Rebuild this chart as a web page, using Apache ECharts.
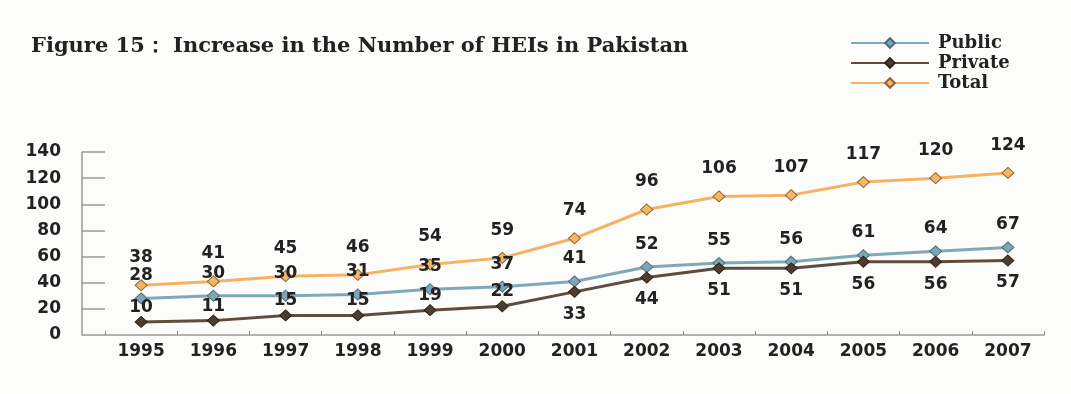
<!DOCTYPE html>
<html>
<head>
<meta charset="utf-8">
<script src="https://cdn.jsdelivr.net/npm/echarts@6/dist/echarts.min.js"></script>
<style>
html,body{margin:0;padding:0;background:#fcfcfa;}
#c{width:1071px;height:394px;}
</style>
</head>
<body>
<div id="c"></div>
<script>
const years = ['1995','1996','1997','1998','1999','2000','2001','2002','2003','2004','2005','2006','2007'];
const publicHEIs = [28,30,30,31,35,37,41,52,55,56,61,64,67];
const privateHEIs = [10,11,15,15,19,22,33,44,51,51,56,56,57];
const totalHEIs = [38,41,45,46,54,59,74,96,106,107,117,120,124];
const yTicks = [0,20,40,60,80,100,120,140];
const titleText = 'Figure 15\uFF1A Increase in the Number of HEIs in Pakistan';

const chart = echarts.init(document.getElementById('c'), null, {renderer:'canvas'});
const labelFont = {fontFamily:'DejaVu Sans', fontWeight:'bold', fontSize:17, color:'#222'};

function series(name, data, lineColor, fill, border, labelCfg) {
  return {
    name: name, type:'line', data: data,
    symbol:'diamond', symbolSize:[12,11],
    lineStyle:{color:lineColor, width:3},
    itemStyle:{color:fill, borderColor:border, borderWidth:1},
    label: Object.assign({show:true}, labelFont, labelCfg),
    emphasis:{disabled:true}, animation:false, z: 2
  };
}

const privData = privateHEIs.map((v,i) => ({
  value: v,
  label: i < 6 ? {position:'top', distance:0} : {position:'bottom', distance:8}
}));

chart.setOption({
  backgroundColor:'#fcfcfa',
  animation:false,
  title:{
    text:titleText, left:26, top:31,
    textStyle:{fontFamily:'DejaVu Serif', fontWeight:'bold', fontSize:21, color:'#222'}
  },
  legend:{
    orient:'vertical', left:845, top:29, itemWidth:78, itemHeight:12, itemGap:2,
    textStyle:{fontFamily:'DejaVu Serif', fontWeight:'bold', fontSize:18, color:'#222', padding:[0,0,0,4]},
    data:['Public','Private','Total']
  },
  grid:{left:105, right:27, top:152, bottom:59, containLabel:false},
  xAxis:{
    type:'category', data:years, boundaryGap:true,
    axisLine:{lineStyle:{color:'#9a9a9a', width:1.5}},
    axisTick:{show:true, inside:true, length:4, lineStyle:{color:'#8a8a8a'}},
    axisLabel:Object.assign({margin:8, interval:0}, labelFont)
  },
  yAxis:{
    type:'value', min:yTicks[0], max:yTicks[yTicks.length-1], interval:20, offset:23,
    axisLine:{show:true, lineStyle:{color:'#9a9a9a', width:1.5}},
    axisTick:{show:true, inside:true, length:23, lineStyle:{color:'#9a9a9a', width:1.5}},
    splitLine:{show:false},
    axisLabel:Object.assign({margin:21}, labelFont)
  },
  series:[
    series('Public', publicHEIs, '#7fa9b8', '#7fa6b3', '#4b6e7c', {position:'top', distance:8}),
    series('Private', privData, '#5e4c3f', '#4d3d31', '#2e241c', {}),
    series('Total', totalHEIs, '#f6b262', '#f4b767', '#8e6530', {position:'top', distance:13})
  ]
});
</script>
</body>
</html>
